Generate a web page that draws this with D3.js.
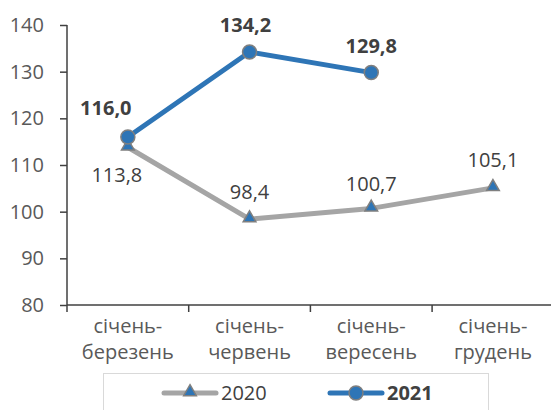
<!DOCTYPE html>
<html>
<head>
<meta charset="utf-8">
<script src="https://cdn.jsdelivr.net/npm/d3@7"></script>
<style>
  body { margin: 0; background: #fff; }
  svg text { font-family: "Open Sans", "Noto Sans", sans-serif; fill: #404040; }
</style>
</head>
<body>
<script>
// data
var categories = ['січень-березень', 'січень-червень', 'січень-вересень', 'січень-грудень'];
var values2020 = [113.8, 98.4, 100.7, 105.1];
var values2021 = [116.0, 134.2, 129.8];
var yTicks = [80, 90, 100, 110, 120, 130, 140];

var W = 551, H = 410;
var margin = {top: 25, left: 67, bottom: 105};
var h = H - margin.top - margin.bottom; // 280

var blue = '#2e75b6', grey = '#a5a5a5', markerStroke = '#7f7f7f';
var fmt = function(v) { return d3.format('.1f')(v).replace('.', ','); };

var svg = d3.select('body').append('svg')
            .attr('width', W)
            .attr('height', H);

var xScale = d3.scaleBand().domain(categories).range([margin.left, margin.left + 4 * 121.7]);
var yScale = d3.scaleLinear().domain([80, 140]).range([margin.top + h, margin.top]);
var cx = function(i) { return xScale(categories[i]) + xScale.bandwidth() / 2; };

// y axis
var yAxis = d3.axisLeft(yScale).tickValues(yTicks).tickSize(7).tickSizeOuter(0);
var gY = svg.append('g')
            .attr('transform', 'translate(' + margin.left + ',0)')
            .call(yAxis);
gY.selectAll('text').attr('x', -23).style('font-size', '20px').style('fill', '#595959');

// x axis, ticks at band edges
var xEdges = d3.range(5).map(function(i) { return margin.left + i * xScale.bandwidth(); });
var gX = svg.append('g');
gX.append('line')
  .attr('x1', margin.left).attr('x2', W)
  .attr('y1', yScale(80)).attr('y2', yScale(80));
gX.selectAll('.xt').data(xEdges).enter().append('line')
  .attr('x1', function(d) { return d; }).attr('x2', function(d) { return d; })
  .attr('y1', yScale(80)).attr('y2', yScale(80) + 7);
gX.selectAll('line').attr('stroke', '#404040').attr('stroke-width', 1.5);
gY.selectAll('line, path').attr('stroke', '#404040').attr('stroke-width', 1.5);
gY.select('.domain').remove();
svg.append('line')
   .attr('x1', margin.left).attr('x2', margin.left)
   .attr('y1', yScale(140)).attr('y2', yScale(80))
   .attr('stroke', '#404040').attr('stroke-width', 1.5);

categories.forEach(function(c, i) {
  var parts = c.split('-');
  var t = svg.append('text')
             .attr('text-anchor', 'middle')
             .style('font-size', '20px')
             .style('fill', '#595959');
  t.append('tspan').attr('x', cx(i)).attr('y', 333).text(parts[0] + '-');
  t.append('tspan').attr('x', cx(i)).attr('y', 359).text(parts[1]);
});

// lines
var line = d3.line()
             .x(function(d, i) { return cx(i); })
             .y(function(d) { return yScale(d); });

svg.append('path').datum(values2020)
   .attr('d', line).attr('fill', 'none')
   .attr('stroke', grey).attr('stroke-width', 5).attr('stroke-linejoin', 'round');
svg.append('path').datum(values2021)
   .attr('d', line).attr('fill', 'none')
   .attr('stroke', blue).attr('stroke-width', 5).attr('stroke-linejoin', 'round');

var tri = d3.symbol().type(d3.symbolTriangle).size(70);
svg.selectAll('.tri').data(values2020).enter().append('path')
   .attr('d', tri)
   .attr('transform', function(d, i) { return 'translate(' + cx(i) + ',' + (yScale(d) - 1) + ')'; })
   .attr('fill', blue).attr('stroke', markerStroke).attr('stroke-width', 1.5);
svg.selectAll('.dot').data(values2021).enter().append('circle')
   .attr('cx', function(d, i) { return cx(i); })
   .attr('cy', function(d) { return yScale(d); })
   .attr('r', 7)
   .attr('fill', blue).attr('stroke', markerStroke).attr('stroke-width', 1.5);

// data labels
var off2020 = [[-11, 35], [0, -20], [0, -17], [0, -21]];
svg.selectAll('.l20').data(values2020).enter().append('text')
   .attr('x', function(d, i) { return cx(i) + off2020[i][0]; })
   .attr('y', function(d, i) { return yScale(d) + off2020[i][1]; })
   .attr('text-anchor', 'middle')
   .style('font-size', '20px')
   .text(fmt);
var off2021 = [[-22, -22], [-4, -20], [0, -20]];
svg.selectAll('.l21').data(values2021).enter().append('text')
   .attr('x', function(d, i) { return cx(i) + off2021[i][0]; })
   .attr('y', function(d, i) { return yScale(d) + off2021[i][1]; })
   .attr('text-anchor', 'middle')
   .style('font-size', '20px').style('font-weight', 'bold')
   .text(fmt);

// legend
svg.append('rect')
   .attr('x', 103.5).attr('y', 373.5).attr('width', 385).attr('height', 50)
   .attr('fill', 'none').attr('stroke', '#d9d9d9');
var leg = svg.append('g');
leg.append('line').attr('x1', 164).attr('x2', 216).attr('y1', 393).attr('y2', 393)
   .attr('stroke', grey).attr('stroke-width', 5).attr('stroke-linecap', 'round');
leg.append('path').attr('d', tri).attr('transform', 'translate(190,392)')
   .attr('fill', blue).attr('stroke', markerStroke).attr('stroke-width', 1.5);
leg.append('text').attr('x', 221).attr('y', 400).style('font-size', '20px').text('2020');
leg.append('line').attr('x1', 330).attr('x2', 382).attr('y1', 393).attr('y2', 393)
   .attr('stroke', blue).attr('stroke-width', 5).attr('stroke-linecap', 'round');
leg.append('circle').attr('cx', 356).attr('cy', 393).attr('r', 7)
   .attr('fill', blue).attr('stroke', markerStroke).attr('stroke-width', 1.5);
leg.append('text').attr('x', 387).attr('y', 400).style('font-size', '20px').style('font-weight', 'bold').text('2021');
</script>
</body>
</html>
